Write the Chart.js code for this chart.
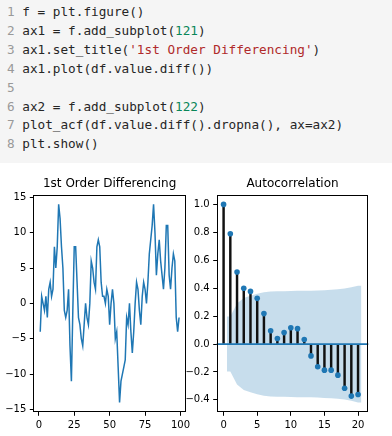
<!DOCTYPE html>
<html>
<head>
<meta charset="utf-8">
<script src="https://cdn.jsdelivr.net/npm/chart.js@4.4.1/dist/chart.umd.min.js"></script>
<style>
  body { margin: 0; width: 392px; height: 436px; background: #fff; position: relative; overflow: hidden; }
  pre.code {
    margin: 0; height: 163px; box-sizing: border-box;
    padding: 3px 0 0 7px; background: #f5f5f5;
    font-family: "DejaVu Sans Mono", monospace; font-size: 12.7px; line-height: 18.9px; color: #262626;
  }
  .ln { color: #999; }
  .num { color: #098658; }
  .str { color: #b02a2a; }
  canvas { position: absolute; top: 165px; }
</style>
</head>
<body>
<pre class="code"><span class="ln">1</span> f = plt.figure()
<span class="ln">2</span> ax1 = f.add_subplot(<span class="num">121</span>)
<span class="ln">3</span> ax1.set_title(<span class="str">'1st Order Differencing'</span>)
<span class="ln">4</span> ax1.plot(df.value.diff())
<span class="ln">5</span>
<span class="ln">6</span> ax2 = f.add_subplot(<span class="num">122</span>)
<span class="ln">7</span> plot_acf(df.value.diff().dropna(), ax=ax2)
<span class="ln">8</span> plt.show()</pre>
<canvas id="diffChart" width="196" height="271" style="left:0"></canvas>
<canvas id="acfChart" width="212" height="271" style="left:180px"></canvas>
<script>
// first differences, plotted at index 1..99
const diffValues = [
  -4, 1, 0, -1, 1, -2, 2, 3, 1, 2,
  8, 5, 8, 14, 12, 8, 5, -1, -2, -1,
  2, -6, -11, -1, 8, 8, 3, -2, -3, -5,
  -6, -3, 0, -2, -3, 0, 6, 5, 3, 2,
  8, 9, 8, 3, 1, 1, 0, 2, 1, -3,
  0, 2, 0, -5, -4, -9, -14, -11, -10, -9,
  -8, -2, -3, 0, -4, -7, -4, 0, 3, 2,
  -1, -3, 1, 3, 2, 0, 3, 7, 9, 11,
  14, 10, 4, 7, 9, 6, 4, 2, 5, 11,
  11, 4, 2, 5, 7, 6, -2, -4, -2
];
const diffIndex = diffValues.map((v, i) => i + 1);

const acfLags = [0, 1, 2, 3, 4, 5, 6, 7, 8, 9, 10, 11, 12, 13, 14, 15, 16, 17, 18, 19, 20];
const acfValues = [1.0, 0.79, 0.516, 0.399, 0.377, 0.327, 0.218, 0.095, 0.04, 0.082, 0.117,
  0.11, 0.032, -0.085, -0.163, -0.187, -0.187, -0.223, -0.317, -0.373, -0.362];

// confidence band
const bandLags = [0.5, 1, 2, 3, 4, 5, 6, 7, 8, 9, 10, 11, 12, 13, 14, 15, 16, 17, 18, 19, 20, 20.5];
const bandUpper = [0.197, 0.197, 0.29, 0.33, 0.345, 0.36, 0.37, 0.376, 0.378, 0.378, 0.38,
  0.381, 0.382, 0.382, 0.383, 0.386, 0.389, 0.392, 0.398, 0.407, 0.418, 0.418];
const bandLower = [-0.197, -0.197, -0.29, -0.33, -0.345, -0.36, -0.37, -0.376, -0.378, -0.378, -0.38,
  -0.381, -0.382, -0.382, -0.383, -0.386, -0.389, -0.392, -0.398, -0.407, -0.418, -0.418];

const diffXTicks = [0, 25, 50, 75, 100];
const diffYTicks = [-15, -10, -5, 0, 5, 10, 15];
const acfXTicks = [0, 5, 10, 15, 20];
const acfYTicks = [-0.4, -0.2, 0, 0.2, 0.4, 0.6, 0.8, 1.0];

const blue = "#1f77b4";

Chart.defaults.font.family = "'DejaVu Sans'";
Chart.defaults.font.size = 10;
Chart.defaults.color = "#000";
Chart.defaults.animation = false;

const minus = (s) => s.replace("-", "\u2212");

const frame = {
  id: "frame",
  afterDatasetsDraw(chart) {
    const { ctx, chartArea: a } = chart;
    const l = Math.round(a.left) + 0.5, r = Math.round(a.right) - 0.5;
    const t = Math.round(a.top) + 0.5, b = Math.round(a.bottom) - 0.5;
    ctx.save();
    ctx.strokeStyle = "#000";
    ctx.lineWidth = 1;
    ctx.strokeRect(l, t, r - l, b - t);
    ctx.restore();
  },
};

const zeroLine = {
  id: "zeroLine",
  afterDatasetDraw(chart, args) {
    if (args.index !== 1) return;
    const { ctx, chartArea: a } = chart;
    const y = chart.scales.y.getPixelForValue(0);
    ctx.save();
    ctx.strokeStyle = blue;
    ctx.lineWidth = 1.8;
    ctx.beginPath();
    ctx.moveTo(a.left, y);
    ctx.lineTo(a.right, y);
    ctx.stroke();
    ctx.restore();
  },
};

function axis(min, max, tickList, fmt, fixed) {
  return {
    type: "linear",
    min: min,
    max: max,
    offset: false,
    border: { display: false },
    grid: { offset: false, drawOnChartArea: false, drawTicks: true, tickLength: 3.5, tickColor: "#000", lineWidth: 1 },
    ticks: { padding: 3.5, callback: fmt, autoSkip: false, maxRotation: 0 },
    afterBuildTicks: (scale) => {
      scale.ticks = tickList.map((v) => ({ value: v }));
    },
    afterFit: fixed,
  };
}

function title(text) {
  return {
    display: true,
    text: text,
    fullSize: false,
    font: { size: 12, weight: "normal" },
    color: "#000",
    padding: { top: 11.8, bottom: 3.3 },
  };
}

new Chart(document.getElementById("diffChart"), {
  type: "line",
  data: {
    datasets: [
      {
        data: diffValues.map((v, i) => ({ x: diffIndex[i], y: v })),
        borderColor: blue,
        borderWidth: 1.5,
        pointRadius: 0,
        tension: 0,
        fill: false,
      },
    ],
  },
  options: {
    responsive: false,
    layout: { padding: { right: 10 } },
    plugins: { legend: { display: false }, tooltip: { enabled: false }, title: title("1st Order Differencing") },
    scales: {
      x: axis(-3.9, 103.9, diffXTicks, (v) => String(v), (s) => { s.height = 23.7; }),
      y: axis(-15.4, 15.4, diffYTicks, (v) => minus(String(v)), (s) => { s.width = 33.3; }),
    },
  },
  plugins: [frame],
});

new Chart(document.getElementById("acfChart"), {
  type: "bar",
  data: {
    datasets: [
      {
        type: "line",
        data: acfLags.map((l, i) => ({ x: l, y: acfValues[i] })),
        showLine: false,
        pointRadius: 2.8,
        pointBackgroundColor: blue,
        pointBorderWidth: 0,
        order: 0,
      },
      {
        type: "bar",
        data: acfLags.map((l, i) => ({ x: l, y: acfValues[i] })),
        backgroundColor: "#111",
        borderWidth: 0,
        barThickness: 1.8,
        order: 2,
      },
      {
        type: "line",
        data: bandLags.map((l, i) => ({ x: l, y: bandUpper[i] })),
        borderColor: "transparent",
        borderWidth: 0,
        pointRadius: 0,
        backgroundColor: "rgba(31, 119, 180, 0.25)",
        fill: "+1",
        tension: 0,
        order: 3,
      },
      {
        type: "line",
        data: bandLags.map((l, i) => ({ x: l, y: bandLower[i] })),
        borderColor: "transparent",
        borderWidth: 0,
        pointRadius: 0,
        fill: false,
        tension: 0,
        order: 4,
      },
    ],
  },
  options: {
    responsive: false,
    layout: { padding: { right: 23.7 } },
    plugins: {
      legend: { display: false },
      tooltip: { enabled: false },
      filler: { drawTime: "beforeDatasetsDraw" },
      title: title("Autocorrelation"),
    },
    scales: {
      x: axis(-1.025, 21.525, acfXTicks, (v) => String(v), (s) => { s.height = 23.7; }),
      y: axis(-0.489, 1.071, acfYTicks, (v) => minus(v.toFixed(1)), (s) => { s.width = 36.7; }),
    },
  },
  plugins: [frame, zeroLine],
});
</script>
</body>
</html>
